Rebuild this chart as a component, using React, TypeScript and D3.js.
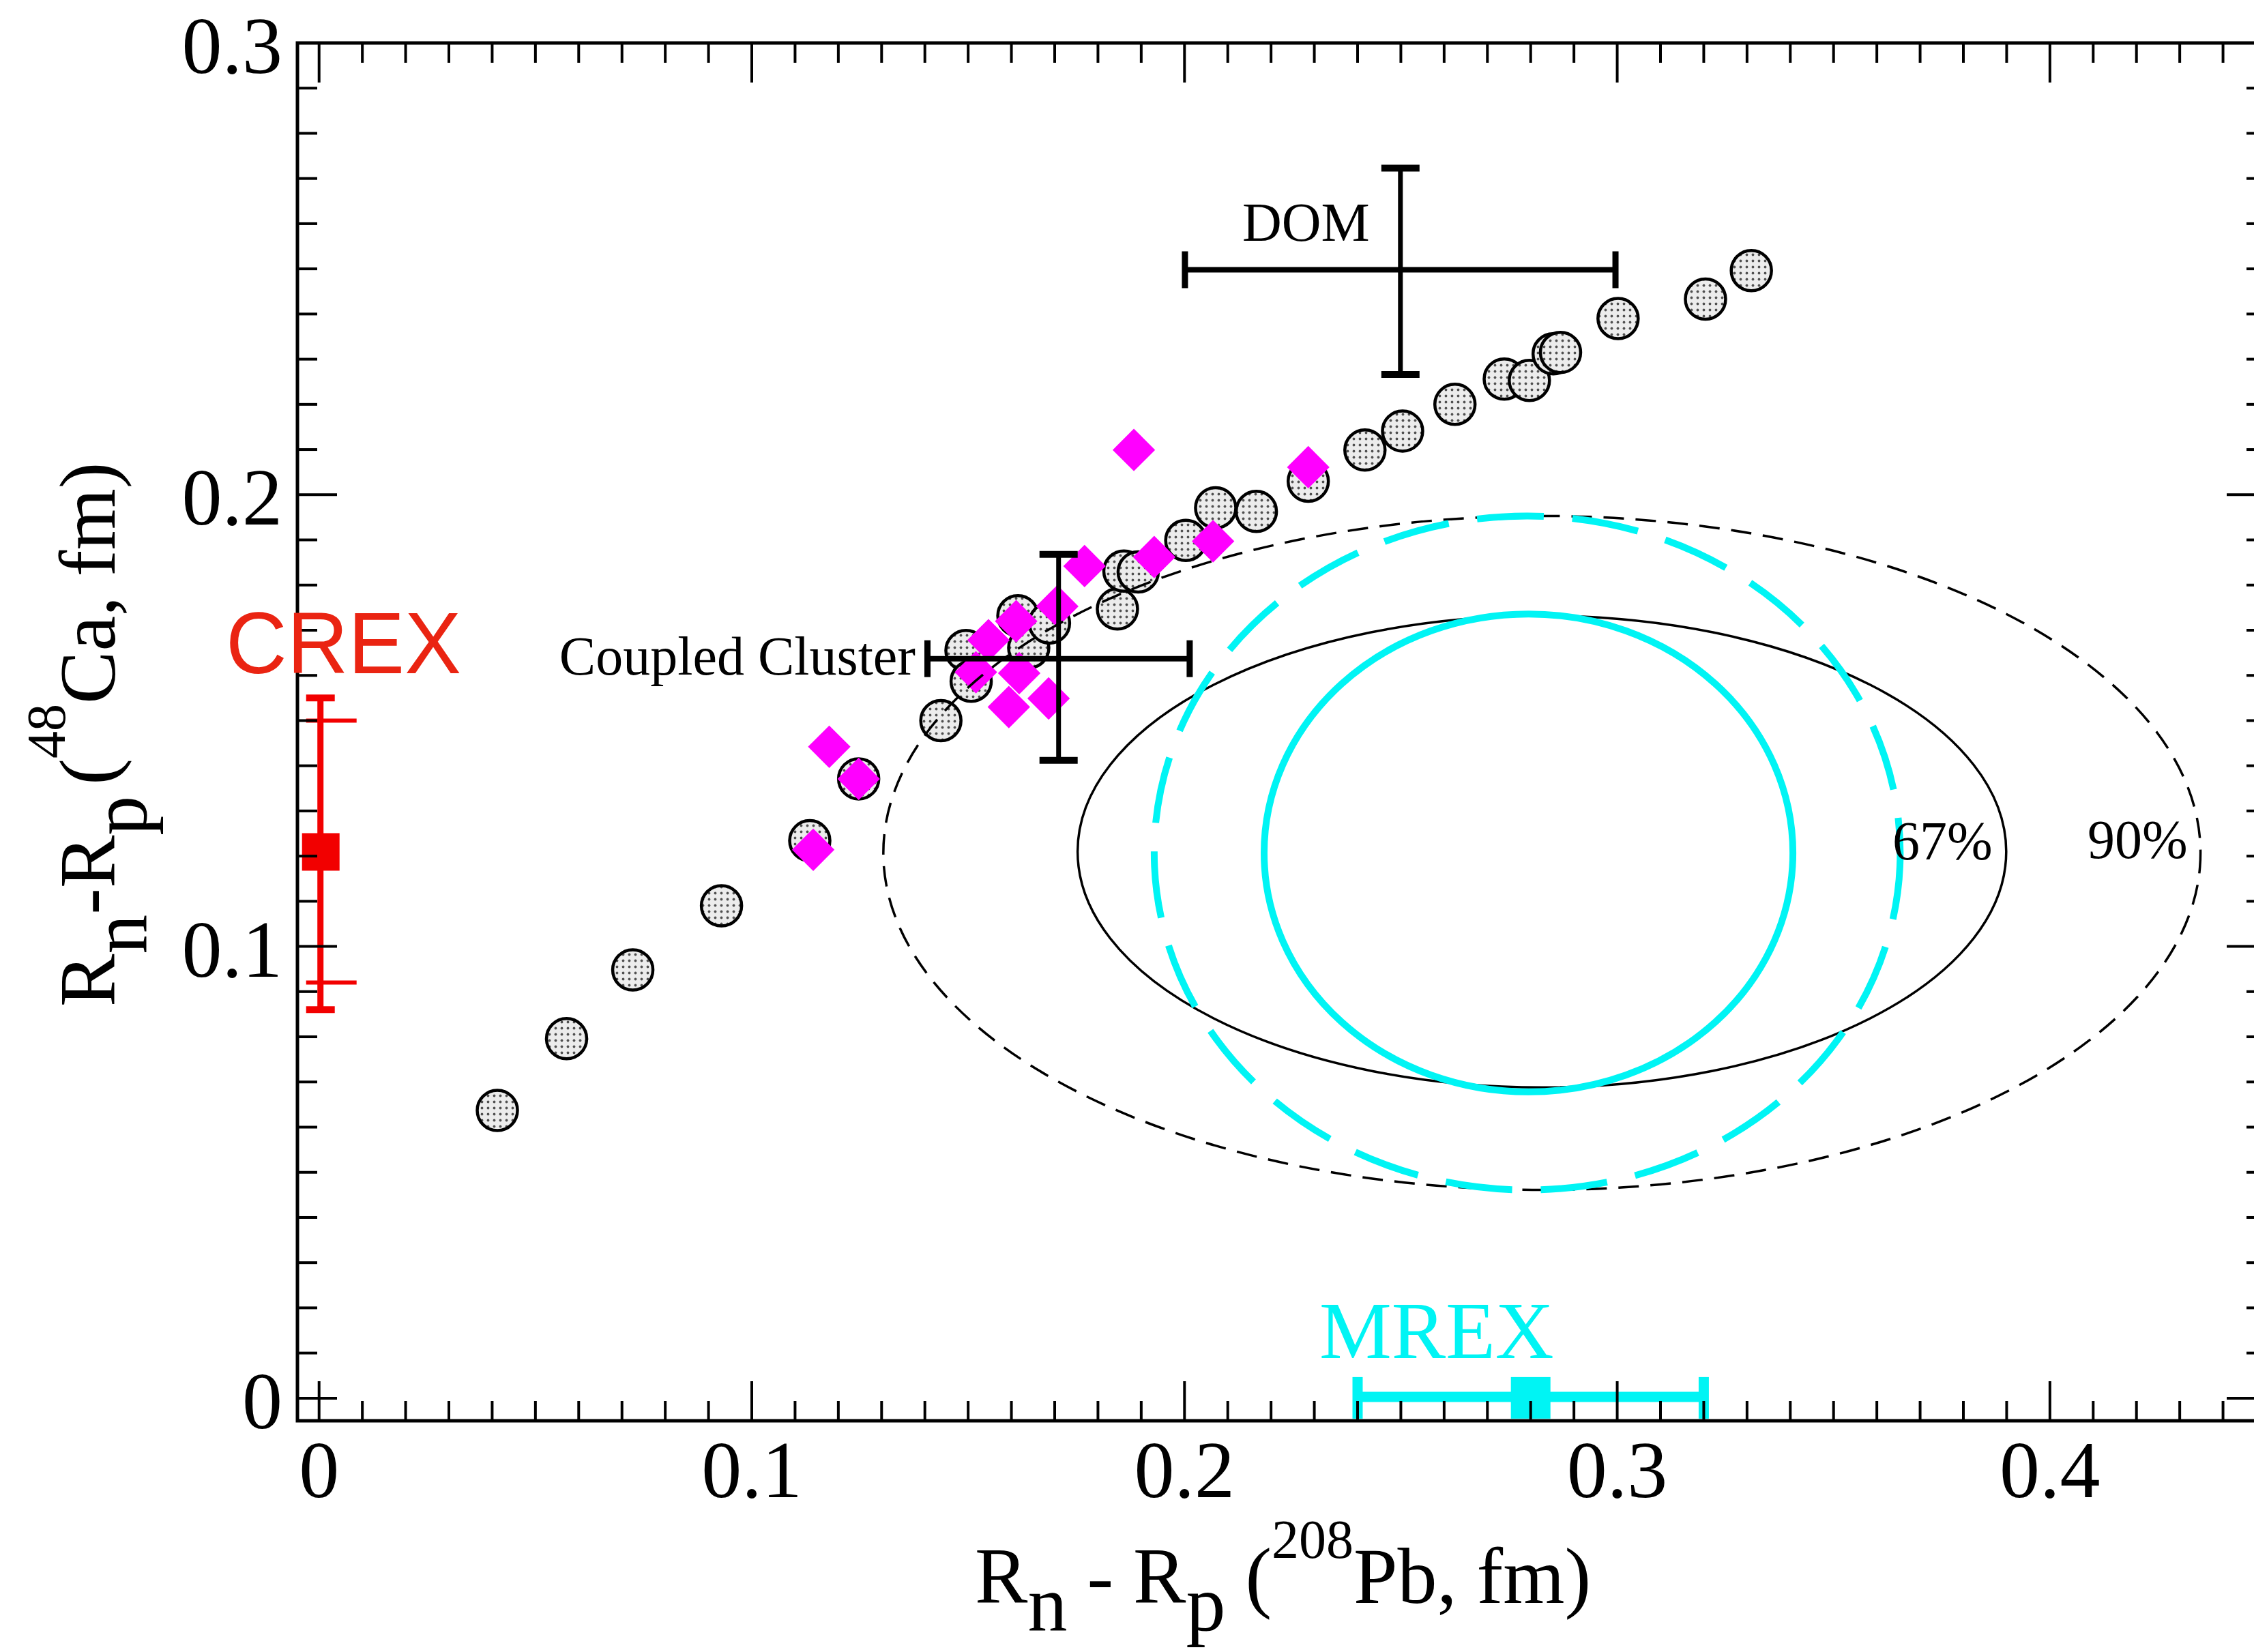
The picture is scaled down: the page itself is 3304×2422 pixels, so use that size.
import React from 'react';
import * as d3 from 'd3';

const W = 3304;
const H = 2422;

// Model predictions (gray dotted circles): Rn-Rp(208Pb), Rn-Rp(48Ca)
const circleX = [0.0412, 0.0572, 0.0725, 0.093, 0.1134, 0.1247, 0.1437, 0.1495, 0.1507, 0.1615, 0.164, 0.1688, 0.1845, 0.186, 0.1893, 0.2003, 0.2072, 0.2166, 0.2286, 0.2417, 0.2504, 0.2625, 0.2739, 0.2797, 0.2852, 0.2869, 0.3002, 0.3204, 0.331];
const circleY = [0.0637, 0.0796, 0.0948, 0.109, 0.1234, 0.1371, 0.15, 0.1655, 0.1587, 0.1732, 0.1661, 0.1716, 0.1747, 0.1831, 0.1829, 0.1899, 0.1971, 0.1963, 0.203, 0.2099, 0.2141, 0.22, 0.2256, 0.2253, 0.2312, 0.2315, 0.239, 0.2433, 0.2496];

// Magenta diamonds
const diamondX = [0.1142, 0.1179, 0.1247, 0.1518, 0.1547, 0.1611, 0.1618, 0.1594, 0.1686, 0.1706, 0.1769, 0.1883, 0.193, 0.2066, 0.2286];
const diamondY = [0.1214, 0.1442, 0.1371, 0.1607, 0.1678, 0.172, 0.1605, 0.153, 0.1549, 0.1753, 0.1842, 0.2099, 0.1862, 0.1897, 0.2061];

// Confidence ellipses: [cx, cy, rx, ry]
const ellipse67 = [0.2826, 0.121, 0.1073, 0.0522];
const ellipse90 = [0.2826, 0.1207, 0.1522, 0.0746];
const cyanSolid = [0.2795, 0.1207, 0.0611, 0.0529];
const cyanDashed = [0.2792, 0.1207, 0.0862, 0.0746];

// Theory crosses: [x, y, xLo, xHi, yLo, yHi]
const domCross = [0.2499, 0.2498, 0.2001, 0.2996, 0.2266, 0.2723];
const ccCross = [0.1709, 0.1637, 0.1406, 0.2012, 0.1412, 0.1868];

// CREX: [x, y, yLoTotal, yHiTotal, yLoExp, yHiExp]
const crexPoint = [0, 0.121, 0.086, 0.155, 0.092, 0.150];
// MREX: [x, y, xLo, xHi]
const mrexPoint = [0.28, 0, 0.24, 0.32];

const xTickValues = [0, 0.1, 0.2, 0.3, 0.4];
const xTickLabels = ['0', '0.1', '0.2', '0.3', '0.4'];
const yTickValues = [0, 0.1, 0.2, 0.3];
const yTickLabels = ['0', '0.1', '0.2', '0.3'];

const SERIF = '"Liberation Serif", "Times New Roman", Times, serif';
const SANS = '"Liberation Sans", Arial, Helvetica, sans-serif';
const CYAN = '#00F4F4';
const MAGENTA = '#FF00FF';

export default function App() {
  const L = 436, R = 3322, T = 63, B = 2083;
  const x = d3.scaleLinear().domain([-0.005, 0.45]).range([L, R]);
  const y = d3.scaleLinear().domain([-0.005, 0.3]).range([B, T]);

  const xMinor = d3.range(0, 0.4501, 0.01).map((v) => +v.toFixed(3));
  const yMinor = d3.range(0, 0.3001, 0.01).map((v) => +v.toFixed(3));
  const isMajor = (v: number) => Math.abs(v * 10 - Math.round(v * 10)) < 1e-6;

  const majLen = 58, minLen = 29;

  const diamondPath = d3.symbol().type(d3.symbolSquare).size(1940)() as string;

  const ell = (e: number[], props: any, key: string) => (
    <ellipse
      key={key}
      cx={x(e[0])}
      cy={y(e[1])}
      rx={x(e[0] + e[2]) - x(e[0])}
      ry={y(e[1]) - y(e[1] + e[3])}
      fill="none"
      {...props}
    />
  );

  const cross = (c: number[], key: string) => {
    const cx = x(c[0]), cy = y(c[1]);
    const x0 = x(c[2]), x1 = x(c[3]);
    const yLo = y(c[4]), yHi = y(c[5]);
    return (
      <g key={key} stroke="#000" fill="none">
        <line x1={x0} x2={x1} y1={cy} y2={cy} strokeWidth={8} />
        <line x1={cx} x2={cx} y1={yLo} y2={yHi} strokeWidth={7} />
        <line x1={x0} x2={x0} y1={cy - 27} y2={cy + 27} strokeWidth={9} />
        <line x1={x1} x2={x1} y1={cy - 27} y2={cy + 27} strokeWidth={9} />
        <line x1={cx - 28} x2={cx + 28} y1={yLo} y2={yLo} strokeWidth={10} />
        <line x1={cx - 28} x2={cx + 28} y1={yHi} y2={yHi} strokeWidth={10} />
      </g>
    );
  };

  const cxC = x(crexPoint[0]) + 2;
  const mx = x(mrexPoint[0]), my = y(mrexPoint[1]);

  return (
    <svg
      width={W}
      height={H}
      style={{ position: 'absolute', left: 0, top: 0, background: '#fff' }}
      xmlns="http://www.w3.org/2000/svg"
    >
      <defs>
        <pattern id="dots" width={9} height={9} patternUnits="userSpaceOnUse">
          <rect width={9} height={9} fill="#ececec" />
          <circle cx={4.5} cy={4.5} r={1.9} fill="#505050" />
        </pattern>
      </defs>
      <rect x={0} y={0} width={W} height={H} fill="#fff" />

      {/* model circles */}
      <g>
        {circleX.map((cx, i) => (
          <circle key={'c' + i} cx={x(cx)} cy={y(circleY[i])} r={29.5} fill="url(#dots)" stroke="#000" strokeWidth={4.5} />
        ))}
      </g>

      {/* diamonds */}
      <g>
        {diamondX.map((dx, i) => (
          <path key={'d' + i} d={diamondPath} transform={`translate(${x(dx)},${y(diamondY[i])}) rotate(45)`} fill={MAGENTA} />
        ))}
      </g>

      {/* black ellipses */}
      {ell(ellipse67, { stroke: '#000', strokeWidth: 3.5 }, 'e67')}
      {ell(ellipse90, { stroke: '#000', strokeWidth: 3.5, strokeDasharray: '30 17' }, 'e90')}
      {/* cyan ellipses */}
      {ell(cyanSolid, { stroke: CYAN, strokeWidth: 10 }, 'cs')}
      {ell(cyanDashed, { stroke: CYAN, strokeWidth: 10, strokeDasharray: '98 42' }, 'cd')}

      {/* theory crosses */}
      {cross(domCross, 'dom')}
      {cross(ccCross, 'cc')}

      {/* CREX */}
      <g fill="none" stroke="#F20000">
        <line x1={cxC} x2={cxC} y1={y(crexPoint[2])} y2={y(crexPoint[3])} strokeWidth={9} />
        <line x1={cxC - 21} x2={cxC + 21} y1={y(crexPoint[2])} y2={y(crexPoint[2])} strokeWidth={10} />
        <line x1={cxC - 21} x2={cxC + 21} y1={y(crexPoint[3])} y2={y(crexPoint[3])} strokeWidth={10} />
        <line x1={cxC - 21} x2={cxC + 53} y1={y(crexPoint[4])} y2={y(crexPoint[4])} strokeWidth={6} />
        <line x1={cxC - 21} x2={cxC + 53} y1={y(crexPoint[5])} y2={y(crexPoint[5])} strokeWidth={6} />
      </g>
      <rect x={cxC - 27} y={y(crexPoint[1]) - 27} width={55} height={55} fill="#F20000" />

      {/* MREX */}
      <g fill="none" stroke={CYAN}>
        <line x1={x(mrexPoint[2])} x2={x(mrexPoint[3])} y1={my - 2} y2={my - 2} strokeWidth={15} />
        <line x1={x(mrexPoint[2])} x2={x(mrexPoint[2])} y1={my - 31} y2={my + 30} strokeWidth={15} />
        <line x1={x(mrexPoint[3])} x2={x(mrexPoint[3])} y1={my - 31} y2={my + 30} strokeWidth={15} />
      </g>
      <rect x={mx - 29} y={my - 31} width={58} height={61} fill={CYAN} />

      {/* axes frame and ticks */}
      <g stroke="#000" strokeWidth={4}>
        {xMinor.map((v, i) => {
          const len = isMajor(v) ? majLen : minLen;
          const px = x(v);
          return (
            <g key={'xt' + i}>
              <line x1={px} x2={px} y1={B} y2={B - len} />
              <line x1={px} x2={px} y1={T} y2={T + len} />
            </g>
          );
        })}
        {yMinor.map((v, i) => {
          const len = isMajor(v) ? majLen : minLen;
          const py = y(v);
          return (
            <g key={'yt' + i}>
              <line x1={L} x2={L + len} y1={py} y2={py} />
              <line x1={R} x2={R - len} y1={py} y2={py} />
            </g>
          );
        })}
      </g>
      <rect x={L} y={T} width={R - L} height={B - T} fill="none" stroke="#000" strokeWidth={5} />

      {/* tick labels */}
      <g fontFamily={SERIF} fontSize={118} fill="#000">
        {xTickValues.map((v, i) => (
          <text key={'xl' + i} x={x(v)} y={2195} textAnchor="middle">{xTickLabels[i]}</text>
        ))}
        {yTickValues.map((v, i) => (
          <text key={'yl' + i} x={414} y={y(v) + 44} textAnchor="end">{yTickLabels[i]}</text>
        ))}
      </g>

      {/* axis titles */}
      <text x={1429} y={2350} fontFamily={SERIF} fontSize={116} fill="#000">
        R<tspan dy={40}>n</tspan>
        <tspan dy={-40}>{' - R'}</tspan>
        <tspan dy={40}>p</tspan>
        <tspan dy={-40}>{' ('}</tspan>
        <tspan dy={-66} fontSize={80}>208</tspan>
        <tspan dy={66}>Pb, fm)</tspan>
      </text>
      <text transform="translate(168,1476) rotate(-90)" fontFamily={SERIF} fontSize={116} fill="#000">
        R<tspan dy={46}>n</tspan>
        <tspan dy={-46}>-R</tspan>
        <tspan dy={46}>p</tspan>
        <tspan dy={-46} dx={16}>(</tspan>
        <tspan dy={-73} fontSize={80}>48</tspan>
        <tspan dy={73}>Ca, fm)</tspan>
      </text>

      {/* annotations */}
      <g fontFamily={SERIF} fill="#000" fontSize={80}>
        <text x={1821} y={353}>DOM</text>
        <text x={1342} y={989} textAnchor="end">Coupled Cluster</text>
        <text x={2774} y={1260}>67%</text>
        <text x={3060} y={1258}>90%</text>
      </g>
      <text x={331} y={987} fontFamily={SANS} fontSize={128} fill="#EA2412" textLength={345} lengthAdjust="spacingAndGlyphs">CREX</text>
      <text x={1934} y={1991} fontFamily={SERIF} fontSize={119} fill={CYAN}>MREX</text>
    </svg>
  );
}
